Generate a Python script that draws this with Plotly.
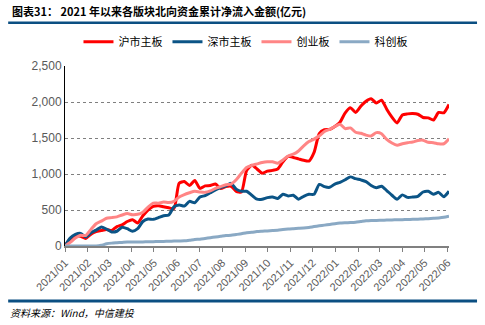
import plotly.graph_objects as go
import pandas as pd

dates = pd.date_range("2021-01-01", periods=75, freq="7D").strftime("%Y-%m-%d").tolist()

sh_main = [0, 100, 140, 135, 105, 165, 200, 215, 230, 215,
           270, 295, 340, 365, 320, 420, 500, 550, 560, 545,
           530, 520, 870, 895, 840, 910, 800, 835, 840, 860,
           800, 825, 830, 760, 750, 1050, 1120, 1070, 1010, 1040,
           1050, 1070, 1170, 1245, 1230, 1210, 1190, 1180, 1300, 1560,
           1615, 1620, 1660, 1720, 1850, 1920, 1855, 1940, 2010, 2045,
           1985, 2025, 1900, 1790, 1710, 1820, 1835, 1840, 1830, 1785,
           1780, 1750, 1855, 1850, 1965]
sz_main = [0, 110, 160, 175, 125, 185, 220, 265, 235, 195,
           205, 260, 240, 205, 240, 340, 375, 370, 395, 420,
           430, 545, 570, 555, 620, 600, 680, 700, 740, 780,
           810, 835, 870, 790, 760, 760, 705, 650, 648, 672,
           680, 660, 718, 695, 705, 650, 690, 718, 718, 855,
           825, 815, 860, 885, 920, 960, 935, 918, 895, 840,
           810, 830, 770, 705, 650, 710, 675, 680, 690, 750,
           760, 720, 745, 685, 760]
chinext = [0, 50, 110, 150, 145, 230, 310, 345, 385, 394,
           405, 430, 450, 435, 440, 470, 540, 595, 595, 610,
           603, 620, 680, 715, 740, 760, 750, 745, 765, 800,
           825, 850, 860, 920, 1010, 1090, 1120, 1140, 1160, 1170,
           1170, 1150, 1195, 1250, 1275, 1320, 1390, 1450, 1485, 1530,
           1590, 1620, 1660, 1690, 1630, 1640, 1580, 1565, 1540, 1528,
           1575, 1560, 1480, 1430, 1400, 1420, 1435, 1445, 1465, 1470,
           1440, 1435, 1420, 1420, 1490]
star = [0, 0, 0, 0, 0, 0, 0, 10, 30, 40,
        45, 50, 55, 55, 56, 57, 58, 60, 62, 64,
        66, 68, 70, 72, 80, 90, 95, 105, 115, 125,
        135, 145, 150, 160, 170, 185, 190, 200, 205, 210,
        215, 220, 228, 235, 240, 245, 250, 258, 270, 280,
        290, 300, 310, 318, 322, 325, 330, 340, 350, 355,
        355, 358, 360, 362, 364, 366, 368, 370, 372, 375,
        380, 385, 390, 398, 415]

series_names = ["沪市主板", "深市主板", "创业板", "科创板"]
series_vals = [sh_main, sz_main, chinext, star]
colors = ["#FF0000", "#0B5486", "#FF8585", "#8AA9C4"]

tick_vals = pd.date_range("2021-01-01", "2022-06-01", freq="MS").strftime("%Y-%m-%d").tolist()
tick_text = pd.date_range("2021-01-01", "2022-06-01", freq="MS").strftime("%Y/%m").tolist()
y_ticks = [0, 500, 1000, 1500, 2000, 2500]

fig = go.Figure()
for name, vals, c in zip(series_names, series_vals, colors):
    fig.add_trace(go.Scatter(x=dates, y=vals, name=name, mode="lines",
                             line=dict(color=c, width=3, shape="spline", smoothing=0.6)))

cjk = "Noto Sans CJK SC"
fig.update_layout(
    width=485, height=325,
    margin=dict(l=65, r=36, t=66, b=79),
    paper_bgcolor="white", plot_bgcolor="white",
    showlegend=True,
    legend=dict(orientation="h", x=0.47, xanchor="center", y=1.135, yanchor="middle",
                font=dict(family=cjk, size=11, color="#000000"),
                itemwidth=30, tracegroupgap=0, bgcolor="rgba(0,0,0,0)"),
    xaxis=dict(type="date", range=["2021-01-01", "2022-06-03"],
               tickvals=tick_vals, ticktext=tick_text, tickangle=-45,
               showgrid=False, showline=True, linecolor="#808080", linewidth=2,
               ticks="outside", ticklen=4, tickcolor="#808080",
               tickfont=dict(family="Liberation Sans, Arial", size=11, color="#595959")),
    yaxis=dict(range=[0, 2500], tickvals=y_ticks, tickformat=",",
               showgrid=True, gridcolor="#7f7f7f", griddash="dot", gridwidth=1,
               showline=True, linecolor="#000000", linewidth=1, zeroline=False,
               ticks="", tickfont=dict(family="Liberation Sans, Arial", size=12, color="#595959")),
    annotations=[
        dict(text="<b>图表31： 2021 年以来各版块北向资金累计净流入金额(亿元)</b>",
             xref="paper", yref="paper", x=-0.143, y=1.305, xanchor="left", yanchor="middle",
             showarrow=False, font=dict(family=cjk, size=11, color="#000000")),
        dict(text="<i>资料来源：Wind，中信建投</i>",
             xref="paper", yref="paper", x=-0.148, y=-0.372, xanchor="left", yanchor="middle",
             showarrow=False, font=dict(family=cjk, size=10, color="#000000")),
    ],
    shapes=[
        dict(type="line", xref="paper", yref="paper", x0=-0.148, x1=1.073, y0=1.2406, y1=1.2406,
             line=dict(color="#0B4F82", width=2.5)),
        dict(type="line", xref="paper", yref="paper", x0=-0.148, x1=1.073, y0=-0.3056, y1=-0.3056,
             line=dict(color="#0B4F82", width=3)),
    ],
)

fig.write_html("out.html")
